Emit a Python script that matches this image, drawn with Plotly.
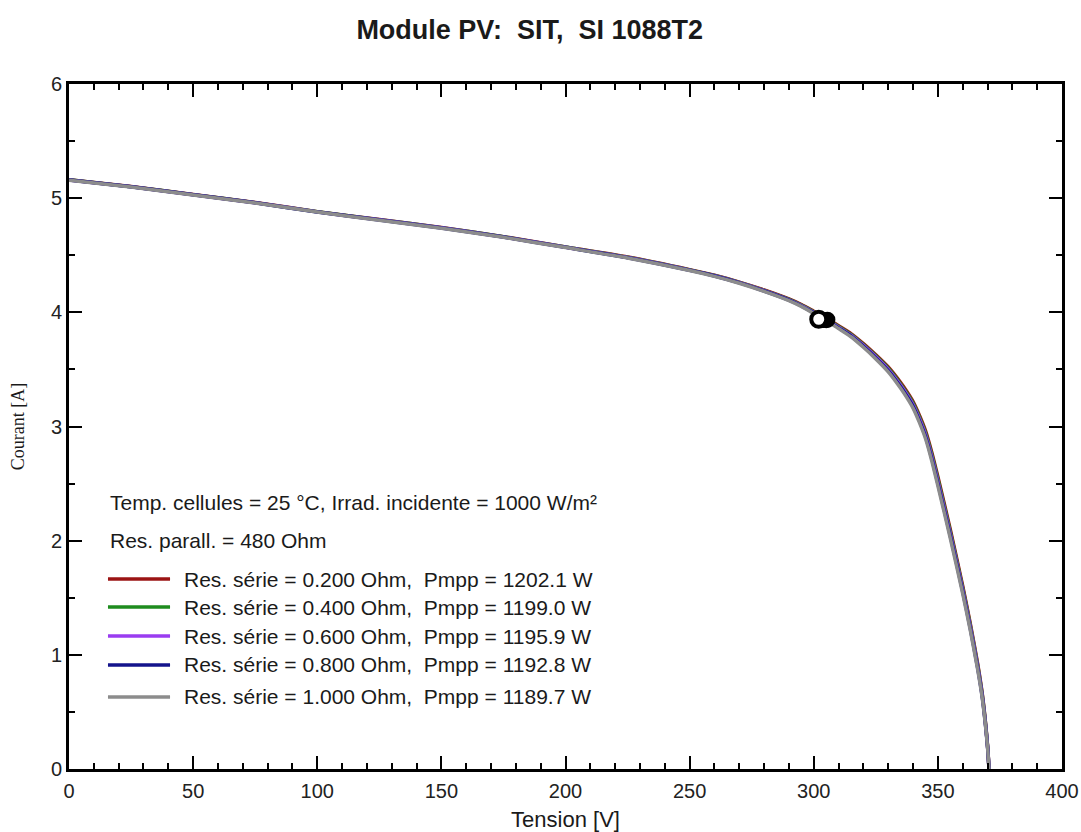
import plotly.graph_objects as go

# I-V curves of the SIT SI 1088T2 module for several series resistances
voltage = [0, 25, 50, 75, 100, 125, 150, 175, 200, 225, 250, 260, 270, 280, 290, 295,
           300, 305, 310, 315, 320, 325, 330, 335, 337.5, 340, 342.5, 345, 347.5, 350,
           355, 360, 363, 366, 368, 370, 370.6]

current_rs_020 = [5.162, 5.102, 5.032, 4.962, 4.882, 4.813, 4.743, 4.663, 4.573, 4.484,
                  4.374, 4.325, 4.265, 4.196, 4.117, 4.068, 4.010, 3.951, 3.882, 3.814,
                  3.726, 3.628, 3.521, 3.385, 3.307, 3.219, 3.102, 2.965, 2.778, 2.560,
                  2.099, 1.603, 1.280, 0.926, 0.640, 0.208, 0.0]
current_rs_040 = [5.161, 5.101, 5.031, 4.961, 4.881, 4.812, 4.742, 4.662, 4.572, 4.482,
                  4.372, 4.323, 4.263, 4.193, 4.114, 4.064, 4.005, 3.946, 3.876, 3.807,
                  3.718, 3.619, 3.511, 3.373, 3.294, 3.205, 3.086, 2.948, 2.759, 2.540,
                  2.080, 1.587, 1.265, 0.913, 0.630, 0.204, 0.0]
current_rs_060 = [5.160, 5.100, 5.030, 4.960, 4.880, 4.810, 4.740, 4.660, 4.570, 4.480,
                  4.370, 4.320, 4.260, 4.190, 4.110, 4.060, 4.000, 3.940, 3.870, 3.800,
                  3.710, 3.610, 3.500, 3.360, 3.280, 3.190, 3.070, 2.930, 2.740, 2.520,
                  2.060, 1.570, 1.250, 0.900, 0.620, 0.200, 0.0]
current_rs_080 = [5.159, 5.099, 5.029, 4.959, 4.879, 4.809, 4.739, 4.659, 4.569, 4.478,
                  4.368, 4.318, 4.258, 4.187, 4.107, 4.056, 3.995, 3.935, 3.864, 3.793,
                  3.702, 3.601, 3.490, 3.348, 3.267, 3.176, 3.054, 2.913, 2.721, 2.500,
                  2.041, 1.554, 1.235, 0.887, 0.610, 0.196, 0.0]
current_rs_100 = [5.158, 5.098, 5.028, 4.958, 4.878, 4.807, 4.737, 4.657, 4.567, 4.476,
                  4.366, 4.315, 4.255, 4.184, 4.103, 4.052, 3.990, 3.929, 3.858, 3.786,
                  3.694, 3.592, 3.479, 3.335, 3.253, 3.161, 3.038, 2.895, 2.702, 2.480,
                  2.021, 1.537, 1.220, 0.874, 0.600, 0.192, 0.0]

series_labels = [
    "Res. série = 0.200 Ohm,  Pmpp = 1202.1 W",
    "Res. série = 0.400 Ohm,  Pmpp = 1199.0 W",
    "Res. série = 0.600 Ohm,  Pmpp = 1195.9 W",
    "Res. série = 0.800 Ohm,  Pmpp = 1192.8 W",
    "Res. série = 1.000 Ohm,  Pmpp = 1189.7 W",
]
series_currents = [current_rs_020, current_rs_040, current_rs_060, current_rs_080, current_rs_100]
series_colors = ["#9b1414", "#1e8c1e", "#9a3cf0", "#14148c", "#8c8c8c"]

# maximum power points
pmpp_w = [1202.1, 1199.0, 1195.9, 1192.8, 1189.7]
mpp_voltage = [305.5, 305.0, 304.0, 303.0, 302.0]

x_ticks = [0, 50, 100, 150, 200, 250, 300, 350, 400]
y_ticks = [0, 1, 2, 3, 4, 5, 6]

info_lines = [
    "Temp. cellules = 25 °C, Irrad. incidente = 1000 W/m²",
    "Res. parall. = 480 Ohm",
]

FONT = "Liberation Sans, Arial, sans-serif"

fig = go.Figure()

for label, cur, col in zip(series_labels, series_currents, series_colors):
    fig.add_trace(go.Scatter(
        x=voltage, y=cur, mode="lines", name=label,
        line=dict(color=col, width=3.5, shape="spline", smoothing=0.6),
        showlegend=False, hoverinfo="skip",
    ))

mpp_current = [p / v for p, v in zip(pmpp_w, mpp_voltage)]
fig.add_trace(go.Scatter(
    x=mpp_voltage[:-1], y=mpp_current[:-1], mode="markers", showlegend=False,
    marker=dict(size=14, color="black", line=dict(color="black", width=2)),
))
fig.add_trace(go.Scatter(
    x=mpp_voltage[-1:], y=mpp_current[-1:], mode="markers", showlegend=False,
    marker=dict(size=15, color="white", line=dict(color="black", width=4)),
))

# info text and hand-placed key (positions in data units)
info_y = [2.33, 2.00]
for txt, yy in zip(info_lines, info_y):
    fig.add_annotation(x=15.7, y=yy, xref="x", yref="y", text=txt, showarrow=False,
                       xanchor="left", yanchor="middle",
                       font=dict(family=FONT, size=21, color="#1a1a1a"))

key_y = [1.664, 1.419, 1.165, 0.911, 0.631]
for label, col, yy in zip(series_labels, series_colors, key_y):
    fig.add_shape(type="line", x0=15.7, x1=40.7, y0=yy, y1=yy, xref="x", yref="y",
                  line=dict(color=col, width=3.5))
    fig.add_annotation(x=45.5, y=yy, xref="x", yref="y", text=label, showarrow=False,
                       xanchor="left", yanchor="middle",
                       font=dict(family=FONT, size=21, color="#1a1a1a"))

axis_common = dict(
    showline=True, linecolor="black", linewidth=3, mirror="ticks",
    ticks="inside", ticklen=13, tickwidth=2, tickcolor="black",
    showgrid=False, zeroline=False, automargin=False,
    tickfont=dict(family=FONT, size=20, color="#222"),
)

fig.update_xaxes(
    range=[0, 400], tickvals=x_ticks, ticktext=[str(t) for t in x_ticks],
    minor=dict(dtick=10, ticks="inside", ticklen=6, tickwidth=2, tickcolor="black"),
    title=dict(text="Tension [V]", font=dict(family=FONT, size=22, color="#1a1a1a"), standoff=11),
    ticklabelstandoff=2,
    **axis_common,
)
fig.update_yaxes(
    range=[0, 6], tickvals=y_ticks, ticktext=[str(t) for t in y_ticks],
    minor=dict(dtick=0.5, ticks="inside", ticklen=6, tickwidth=2, tickcolor="black"),
    title=dict(text="Courant [A]", font=dict(family="Liberation Serif, Times New Roman, serif",
                                            size=18, color="#1a1a1a"), standoff=22),
    ticklabelstandoff=0,
    **axis_common,
)

fig.update_layout(
    width=1081, height=832,
    margin=dict(l=69, r=19, t=84, b=63),
    paper_bgcolor="white", plot_bgcolor="white",
    title=dict(text="<b>Module PV:  SIT,  SI 1088T2</b>", x=0.49, xref="container",
               xanchor="center", y=1 - 30 / 832, yanchor="middle",
               font=dict(family=FONT, size=27, color="#1a1a1a")),
)

fig.write_html("out.html")
